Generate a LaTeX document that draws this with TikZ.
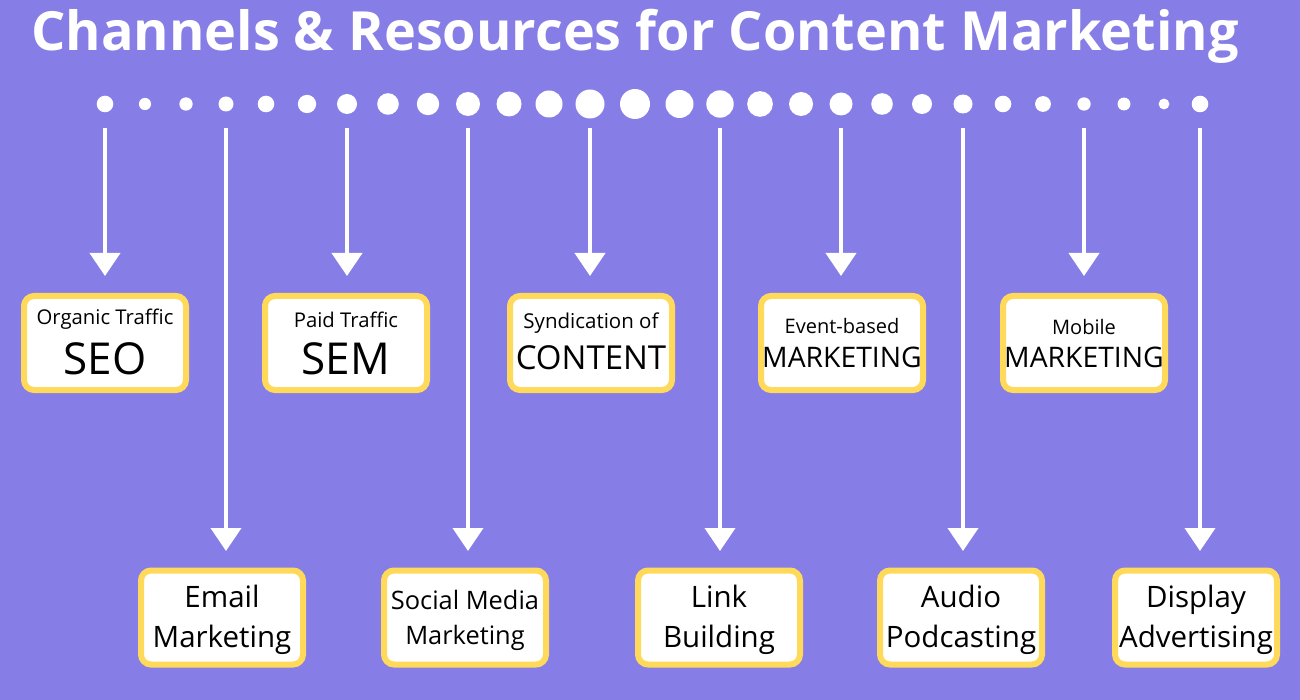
\documentclass[tikz,border=0pt]{standalone}
\usepackage{fontspec}
\setmainfont{Open Sans}
\usetikzlibrary{arrows.meta}
\definecolor{bg}{RGB}{134,126,230}
\definecolor{gold}{RGB}{255,218,90}
\begin{document}
\begin{tikzpicture}[x=1pt,y=-1pt,
  dot/.style={circle,fill=white,inner sep=0pt,minimum size=#1},
  box/.style={draw=gold,line width=6pt,fill=white,rounded corners=10pt,minimum width=162pt,minimum height=94pt,inner sep=0pt},
  flow/.style={draw=white,line width=4pt,-{Triangle[width=30pt,length=23pt]},shorten <=24pt},
  small/.style={font=\fontsize{20.3}{24}\selectfont,inner sep=0pt},
  big/.style={font=\fontsize{44}{50}\selectfont,inner sep=0pt},
  mid/.style={font=\fontsize{33}{38}\selectfont,inner sep=0pt},
  two/.style={font=\fontsize{29.5}{39.5}\selectfont,align=center,inner sep=0pt},
  title/.style={font=\bfseries\fontsize{54}{64}\selectfont,text=white,inner sep=0pt}]
\fill[bg] (0,0) rectangle (1300,700);
\useasboundingbox (0,0) rectangle (1300,700);
\node[title] (title) at (635,36) {Channels \& Resources for Content Marketing};
\foreach \x/\d [count=\i] in {105/16.6,145/12.2,186/13.3,226/15,266/16.6,307/18.3,347/20,388/21.6,428/22.4,468/24,509/25,549/27,590/29,635/30,679.5/28,720/27.4,760/25.7,801/24,841/23,882/21.6,922/20,963/19,1003/16.6,1043/15.8,1084/13.3,1124/12.9,1164/10.8,1200/16.6}
  \node[dot=\d pt] (d\i) at (\x,104) {};
% top boxes
\node[box] (b1) at (105,343) {};
\node[box] (b2) at (346,343) {};
\node[box] (b3) at (591,343) {};
\node[box] (b4) at (842,343) {};
\node[box] (b5) at (1084,343) {};
% bottom boxes
\node[box] (c1) at (222,617.5) {};
\node[box] (c2) at (465,617.5) {};
\node[box] (c3) at (719,617.5) {};
\node[box] (c4) at (961,617.5) {};
\node[box] (c5) at (1196,617.5) {};
% arrows
\foreach \d/\b in {d1/b1,d7/b2,d13/b3,d19/b4,d25/b5}
  \draw[flow,shorten >=17pt] (\d.center) -- (\d.center |- \b.north);
\foreach \d/\b in {d4/c1,d10/c2,d16/c3,d22/c4,d28/c5}
  \draw[flow,shorten >=16.5pt] (\d.center) -- (\d.center |- \b.north);
% texts top
\node[small] (t1a) at (105,319.5) {Organic Traffic};
\node[big] (t1b) at (105,359) {SEO};
\node[small] (t2a) at (346,319.5) {Paid Traffic};
\node[big] (t2b) at (346,359) {SEM};
\node[small,font=\fontsize{20.5}{24}\selectfont] (t3a) at (591,323) {Syndication of};
\node[mid] (t3b) at (591,358) {CONTENT};
\node[small,font=\fontsize{20}{24}\selectfont] (t4a) at (842,326) {Event-based};
\node[mid,font=\fontsize{28.3}{33}\selectfont] (t4b) at (842,357) {MARKETING};
\node[small,font=\fontsize{20}{24}\selectfont] (t5a) at (1084,327) {Mobile};
\node[mid,font=\fontsize{28.3}{33}\selectfont] (t5b) at (1084,357) {MARKETING};
% texts bottom
\node[two] (u1) at (222,620) {Email\\Marketing};
\node[two,font=\fontsize{25.4}{35}\selectfont] (u2) at (465,620.5) {Social Media\\Marketing};
\node[two] (u3) at (719,620) {Link\\Building};
\node[two] (u4) at (961,620) {Audio\\Podcasting};
\node[two] (u5) at (1196,620) {Display\\Advertising};
\end{tikzpicture}
\end{document}
